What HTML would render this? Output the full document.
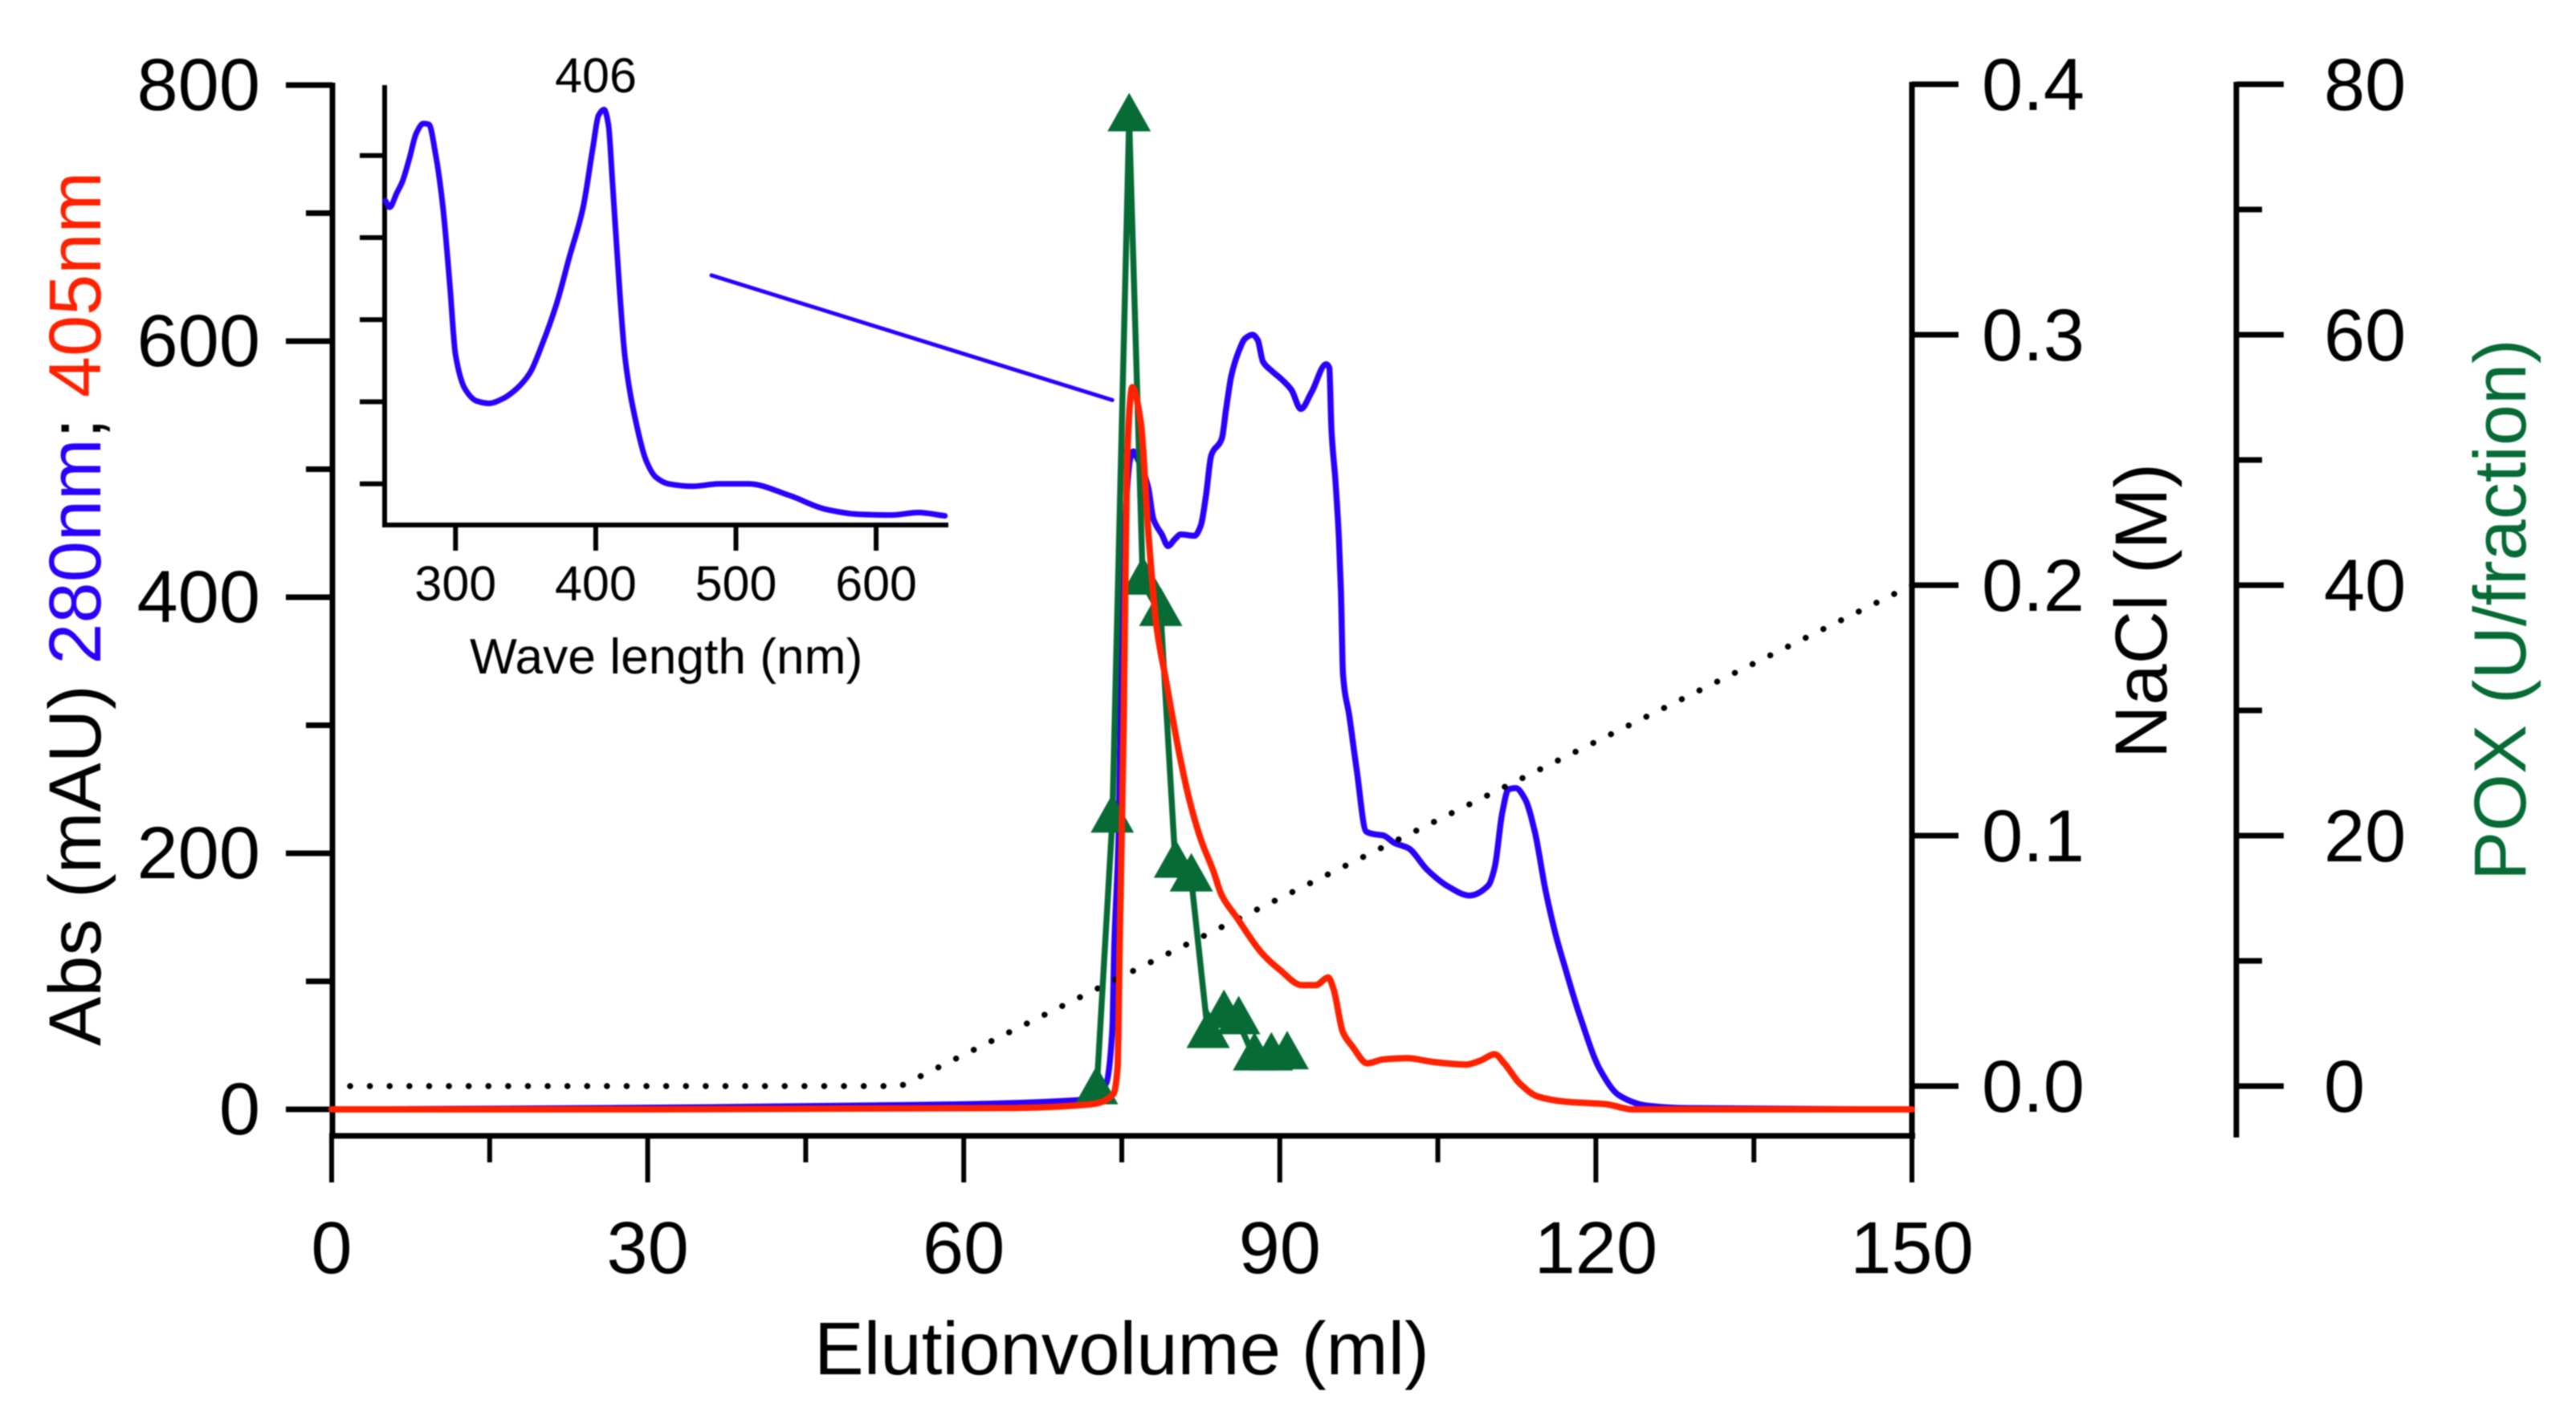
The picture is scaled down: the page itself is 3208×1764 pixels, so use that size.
<!DOCTYPE html>
<html lang="en">
<head>
<meta charset="utf-8">
<title>Elution chromatogram with inset spectrum</title>
<style>
html,body{margin:0;padding:0;background:#fff;}
#chart{display:block;width:3208px;height:1764px;background:#fff;filter:blur(0.8px);}
text{font-family:"Liberation Sans",Arial,sans-serif;fill:#000;}
</style>
</head>
<body>
<svg id="chart" xmlns="http://www.w3.org/2000/svg" width="3208" height="1764" viewBox="0 0 3208 1764">
  <text x="1014" y="1712" font-size="92.5">Elutionvolume (ml)</text>
  <text transform="translate(125,1303) rotate(-90)" font-size="92"><tspan>Abs (mAU) </tspan><tspan style="fill:#2a00ff">280nm</tspan><tspan>; </tspan><tspan style="fill:#ff2200">405nm</tspan></text>
  <text transform="translate(2698,945) rotate(-90)" font-size="92">NaCl (M)</text>
  <text transform="translate(3145,1097) rotate(-90)" font-size="92" style="fill:#076b35">POX (U/fraction)</text>
  <text x="585" y="839" font-size="62.3">Wave length (nm)</text>
  <text x="742" y="115" font-size="61" text-anchor="middle">406</text>
  <g id="axes"></g>
  <g id="marks"></g>
</svg>
<script>
// Main chromatogram data
const elutionTicks = [0, 30, 60, 90, 120, 150];
const elutionMinorTicks = [15, 45, 75, 105, 135];
const absTicks = [0, 200, 400, 600, 800];
const absMinorTicks = [100, 300, 500, 700];
const naclTicks = ["0.0", "0.1", "0.2", "0.3", "0.4"];
const poxTicks = [0, 20, 40, 60, 80];
const poxMinorTicks = [10, 30, 50, 70];

const a280Volume = [0,25,50,70.6,73.5,74.1,74.3,74.7,74.9,75.4,75.8,76.1,76.5,77.5,78,78.8,79.4,80,80.6,81.9,82.5,83,83.5,84.5,84.9,85.4,86.1,86.7,87.4,87.9,88.4,89.2,90.2,91.1,92,93,94.4,94.7,94.9,95.3,95.6,95.8,96,96.6,97.3,98.2,98.9,99.8,100.9,102.2,104,106,108,109.8,110.4,111.1,111.7,112.4,113.3,114.2,115.2,116.2,117.1,118.4,120.4,122.2,124.8,128.6,150];
const a280Values = [0,1,3,7,20,62,130,214,312,470,508,514,508,486,461,449,440,445,449,448,456,480,511,524,547,573,592,602,605,601,584,577,570,562,547,560,582,579,531,489,447,405,340,307,265,217,215,214,208,204,187,174,167,175,189,231,250,251,242,217,172,136,110,75,31,11,3,1,0];

const a405Volume = [0,30,63.8,72.1,74.2,74.6,74.8,75,75.2,75.5,76,76.8,77.5,78.3,79.2,80.5,81.5,82.5,83.7,84.5,85.9,88.3,90,92.1,93.4,94.6,95.1,96,96.9,98.3,99.8,102.1,104.6,107.7,109,110.4,111.3,112.8,114.5,117.1,121,123.5,150];
const a405Values = [0,0,1,4,12,33,130,218,312,508,564,537,453,377,335,276,239,211,186,167,150,122,109,97,97,103,94,60,49,36,39,40,37,35,38,43,36,20,10,6,4,0,0];

const poxVolume = [72.6,74.1,75.7,77,78.7,80.1,81.6,83.2,84.7,86.1,87.6,89.2,90.7];
const poxValues = [-0.5,21.2,77.2,40.2,37.7,17.6,16.5,4,5.6,5.1,2.2,2.2,2.3];

const naclVolume = [1.75,54,150];
const naclValues = [0,0,0.2];

const connectorVolume = [36.05,74.1];
const connectorAbs = [651.4,554];

// Inset spectrum data
const waveTicks = [300,400,500,600];
const insetYTicks = [0.1,0.2,0.3,0.4,0.5];
const spectrumWave = [250,253,258,262,267,272,277,281,286,291,296,300,307,315,324,334,343,353,362,372,381,391,398,402,406,409,412,417,421,429,436,443,452,469,488,509,538,564,587,611,630,649];
const spectrumValues = [.445,.437,.454,.468,.496,.527,.539,.538,.499,.437,.341,.257,.215,.201,.198,.204,.215,.235,.271,.319,.375,.437,.510,.549,.556,.538,.465,.336,.252,.173,.128,.108,.100,.097,.100,.100,.086,.069,.063,.062,.065,.061];

// Axis functions
function xMain(v){return 413 + 13.12 * v;}
function yAbs(v){return 1382 - 1.595 * v;}
function yNacl(v){return 1353 - 3120 * v;}
function yPox(v){return 1353 - 15.6 * v;}
function xWave(v){return 480 + 1.746 * (v - 250);}
function yInset(v){return 705 - 1022.5 * v;}

const NS = "http://www.w3.org/2000/svg";
const axesGroup = document.getElementById("axes");
const marksGroup = document.getElementById("marks");

function makeLine(parent, x1, y1, x2, y2, width, color){
  const el = document.createElementNS(NS, "line");
  el.setAttribute("x1", x1);
  el.setAttribute("y1", y1);
  el.setAttribute("x2", x2);
  el.setAttribute("y2", y2);
  el.setAttribute("stroke", color || "#000");
  el.setAttribute("stroke-width", width);
  parent.appendChild(el);
  return el;
}
function makeLabel(parent, x, y, size, anchor, content){
  const el = document.createElementNS(NS, "text");
  el.setAttribute("x", x);
  el.setAttribute("y", y);
  el.setAttribute("font-size", size);
  el.setAttribute("text-anchor", anchor);
  el.textContent = content;
  parent.appendChild(el);
  return el;
}
function makePolyline(parent, xs, ys, fx, fy, width, color){
  const el = document.createElementNS(NS, "polyline");
  el.setAttribute("points", xs.map(function(v, i){return fx(v).toFixed(1) + "," + fy(ys[i]).toFixed(1);}).join(" "));
  el.setAttribute("fill", "none");
  el.setAttribute("stroke", color);
  el.setAttribute("stroke-width", width);
  el.setAttribute("stroke-linejoin", "round");
  el.setAttribute("stroke-linecap", "round");
  parent.appendChild(el);
  return el;
}
// Monotone cubic curve through the projected data points
function makeCurve(parent, xs, ys, fx, fy, width, color){
  const px = xs.map(fx);
  const py = ys.map(fy);
  const n = px.length;
  const slopes = [];
  for (let i = 0; i < n - 1; i++) {
    slopes.push((py[i + 1] - py[i]) / (px[i + 1] - px[i]));
  }
  const tang = [slopes[0]];
  for (let i = 1; i < n - 1; i++) {
    if (slopes[i - 1] * slopes[i] <= 0) {
      tang.push(0);
    } else {
      const h0 = px[i] - px[i - 1];
      const h1 = px[i + 1] - px[i];
      tang.push(3 * (h0 + h1) / ((2 * h1 + h0) / slopes[i - 1] + (h1 + 2 * h0) / slopes[i]));
    }
  }
  tang.push(slopes[n - 2]);
  let d = "M" + px[0].toFixed(1) + " " + py[0].toFixed(1);
  for (let i = 0; i < n - 1; i++) {
    const h = (px[i + 1] - px[i]) / 3;
    d += "C" + (px[i] + h).toFixed(1) + " " + (py[i] + tang[i] * h).toFixed(1) + " " +
         (px[i + 1] - h).toFixed(1) + " " + (py[i + 1] - tang[i + 1] * h).toFixed(1) + " " +
         px[i + 1].toFixed(1) + " " + py[i + 1].toFixed(1);
  }
  const el = document.createElementNS(NS, "path");
  el.setAttribute("d", d);
  el.setAttribute("fill", "none");
  el.setAttribute("stroke", color);
  el.setAttribute("stroke-width", width);
  el.setAttribute("stroke-linejoin", "round");
  el.setAttribute("stroke-linecap", "round");
  parent.appendChild(el);
  return el;
}

// Main axis lines
let el;
el = makeLine(axesGroup, xMain(0) - 3, 1415, xMain(150) + 4, 1415, 7);


el = makeLine(axesGroup, 414, 103, 414, 1418, 7);


el = makeLine(axesGroup, 2381, 102, 2381, 1418, 7);


el = makeLine(axesGroup, 2785, 102, 2785, 1417, 7);


el = makeLine(axesGroup, 479, 106, 479, 657, 6);


el = makeLine(axesGroup, 476, 654, 1181, 654, 6);



// Elution ticks
elutionTicks.forEach(function(t){
  const tick = makeLine(axesGroup, xMain(t), 1415, xMain(t), 1473, 6);
  
  
  const label = makeLabel(axesGroup, xMain(t), 1586, 92, "middle", String(t));
  
  
});
elutionMinorTicks.forEach(function(t){
  const tick = makeLine(axesGroup, xMain(t), 1415, xMain(t), 1448, 6);
  
  
});

// Absorbance ticks
absTicks.forEach(function(t){
  const tick = makeLine(axesGroup, 356, yAbs(t), 414, yAbs(t), 7);
  
  
  const label = makeLabel(axesGroup, 324, yAbs(t) + 31, 92, "end", String(t));
  
  
});
absMinorTicks.forEach(function(t){
  const tick = makeLine(axesGroup, 381, yAbs(t), 414, yAbs(t), 7);
  
  
});

// NaCl ticks
naclTicks.forEach(function(t){
  const tick = makeLine(axesGroup, 2381, yNacl(+t), 2439, yNacl(+t), 7);
  
  
  const label = makeLabel(axesGroup, 2468, yNacl(+t) + 32, 92, "start", t);
  
  
});

// POX ticks
poxTicks.forEach(function(t){
  const tick = makeLine(axesGroup, 2785, yPox(t), 2844, yPox(t), 7);
  
  
  const label = makeLabel(axesGroup, 2894, yPox(t) + 32, 92, "start", String(t));
  
  
});
poxMinorTicks.forEach(function(t){
  const tick = makeLine(axesGroup, 2785, yPox(t), 2817, yPox(t), 7);
  
  
});

// Inset ticks
waveTicks.forEach(function(t){
  const tick = makeLine(axesGroup, xWave(t), 654, xWave(t), 686, 6);
  
  
  const label = makeLabel(axesGroup, xWave(t), 748, 61, "middle", String(t));
  
  
});
insetYTicks.forEach(function(t){
  const tick = makeLine(axesGroup, 448, yInset(t), 479, yInset(t), 6);
  
  
});

// Series
const spectrumLine = makeCurve(marksGroup, spectrumWave, spectrumValues, xWave, yInset, 7, "#2a00ff");



const connector = makePolyline(marksGroup, connectorVolume, connectorAbs, xMain, yAbs, 5, "#2a00ff");



const a280Line = makeCurve(marksGroup, a280Volume, a280Values, xMain, yAbs, 7.5, "#2a00ff");



const naclLine = makePolyline(marksGroup, naclVolume, naclValues, xMain, yNacl, 7.5, "#000");
naclLine.setAttribute("stroke-dasharray", "0.1 24.5");



const poxLine = makePolyline(marksGroup, poxVolume, poxValues, xMain, yPox, 7.5, "#076b35");



poxVolume.forEach(function(v, i){
  const cx = xMain(v);
  const cy = yPox(poxValues[i]);
  const tri = document.createElementNS(NS, "polygon");
  tri.setAttribute("points", cx + "," + (cy - 33) + " " + (cx - 27) + "," + (cy + 15) + " " + (cx + 27) + "," + (cy + 15));
  tri.setAttribute("fill", "#076b35");
  
  
  marksGroup.appendChild(tri);
});

const a405Line = makeCurve(marksGroup, a405Volume, a405Values, xMain, yAbs, 8, "#ff2200");


</script>
</body>
</html>
